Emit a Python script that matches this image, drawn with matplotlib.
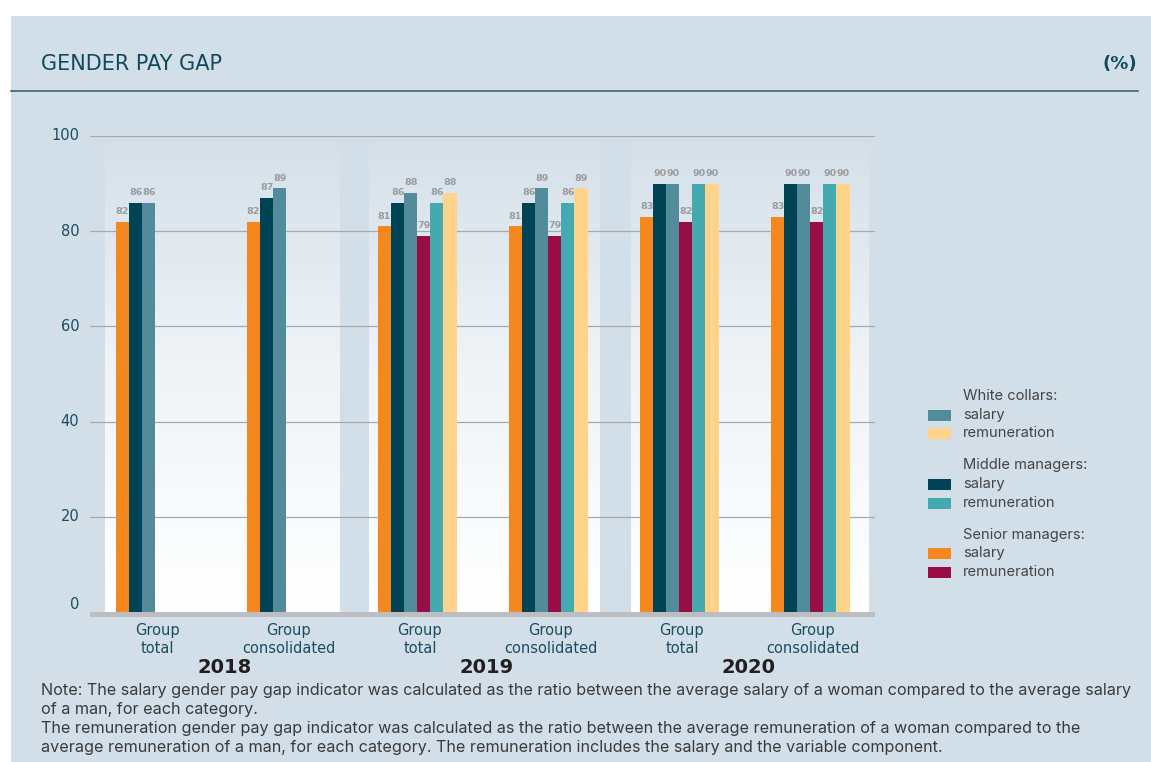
import matplotlib
matplotlib.use("Agg")
import matplotlib.pyplot as plt
import matplotlib.patches as mpatches
from matplotlib.colors import LinearSegmentedColormap
import numpy as np

# ── Data ──────────────────────────────────────────────────────────────────────
GROUPS = ["Group\ntotal", "Group\nconsolidated"] * 3
YEARS = ["2018", "2019", "2020"]

SERIES = [
    "Senior managers salary",
    "Middle managers salary",
    "White collars salary",
    "Senior managers remuneration",
    "Middle managers remuneration",
    "White collars remuneration",
]
SENIOR_SAL = [82, 82, 81, 81, 83, 83]
MIDDLE_SAL = [86, 87, 86, 86, 90, 90]
WHITE_SAL  = [86, 89, 88, 89, 90, 90]
SENIOR_REM = [np.nan, np.nan, 79, 79, 82, 82]
MIDDLE_REM = [np.nan, np.nan, 86, 86, 90, 90]
WHITE_REM  = [np.nan, np.nan, 88, 89, 90, 90]
VALUES = [SENIOR_SAL, MIDDLE_SAL, WHITE_SAL, SENIOR_REM, MIDDLE_REM, WHITE_REM]

YTICKS = [0, 20, 40, 60, 80, 100]

# ── Palette ───────────────────────────────────────────────────────────────────
BG       = "#d3dfe8"
COL_SEN_S = "#f5871f"
COL_MID_S = "#004354"
COL_WHI_S = "#528c9a"
COL_SEN_R = "#990d45"
COL_MID_R = "#45aab0"
COL_WHI_R = "#ffd38a"
COLORS = [COL_SEN_S, COL_MID_S, COL_WHI_S, COL_SEN_R, COL_MID_R, COL_WHI_R]
TEAL_TXT = "#1a4d60"
FONT = "DejaVu Sans"
NOTE_FONT = "Inter"

W, H = 1151, 762
fig = plt.figure(figsize=(W / 100, H / 100), dpi=100)
fig.patch.set_facecolor("white")

# background card
fig.add_artist(mpatches.Rectangle((11 / W, 0), 1 - 11 / W, 1 - 16 / H,
                                  transform=fig.transFigure,
                                  facecolor=BG, edgecolor="none", zorder=0))

# header
fig.text(41 / W, 1 - 64 / H, "GENDER PAY GAP", fontsize=15, color="#0e4a5c",
         fontname=FONT, va="center", ha="left")
fig.text(1137 / W, 1 - 64 / H, "(%)", fontsize=13, color="#0e4a5c",
         fontname=FONT, va="center", ha="right", fontweight="bold")
fig.add_artist(plt.Line2D([11 / W, 1138 / W], [1 - 91 / H, 1 - 91 / H],
                          transform=fig.transFigure, color="#2b5a6b", lw=1.1))

# ── Axes ──────────────────────────────────────────────────────────────────────
ax = fig.add_axes([90 / W, 150 / H, 785 / W, 476 / H])
ax.set_facecolor("none")
for s in ax.spines.values():
    s.set_visible(False)
ax.set_xticks([])
ax.set_yticks([])

# white gradient panels behind each year
grad = np.linspace(0, 1, 256).reshape(-1, 1)
cmap = LinearSegmentedColormap.from_list("panel", ["white", "#f0f4f7", BG])
for x0, x1 in [(-1.3, 16.6), (18.8, 36.4), (38.8, 56.9)]:
    ax.imshow(grad, extent=(x0, x1, 0, 101), origin="lower", cmap=cmap,
              aspect="auto", zorder=1)
ax.set_xlim(-2.48, 57.44)
ax.set_ylim(0, 100)

# gridlines + tick labels
for t in YTICKS[1:]:
    ax.axhline(t, color="#a4a9ad", lw=0.9, zorder=2)
for t in YTICKS:
    yy = t + (1.5 if t == 0 else 0)
    ax.text(-3.3, yy, str(t), fontsize=10.5, color=TEAL_TXT, fontname=FONT,
            ha="right", va="center", clip_on=False)

# baseline
ax.add_patch(mpatches.Rectangle((-2.48, -1.1), 59.9, 1.1, facecolor="#bcbec2",
                                edgecolor="none", clip_on=False, zorder=4))

# bars
n_groups = len(GROUPS)
for j, (vals, col) in enumerate(zip(VALUES, COLORS)):
    for g in range(n_groups):
        v = vals[g]
        if np.isnan(v):
            continue
        x = 10 * g + j
        ax.bar(x, v, width=1.0, color=col, edgecolor="none", zorder=3)
        ax.text(x, v + 1.2, f"{v:.0f}", fontsize=6.8, fontweight="bold",
                color="#9a9c9e", ha="center", va="bottom", fontname=FONT,
                zorder=5)

# category + year labels
for g, lab in enumerate(GROUPS):
    ax.text(10 * g + 2.7, -2.3, lab, fontsize=10.5, color=TEAL_TXT,
            fontname=FONT, ha="center", va="top", linespacing=1.25,
            clip_on=False)
for k, yr in enumerate(YEARS):
    ax.text(20 * k + 7.8, -9.6, yr, fontsize=14, fontweight="bold",
            color="#231f20", fontname=FONT, ha="center", va="top",
            clip_on=False)

# ── Legend (drawn manually to match stacked headings) ────────────────────────
legend_rows = [
    ("White collars:", None, 396),
    ("salary", COL_WHI_S, 415),
    ("remuneration", COL_WHI_R, 433),
    ("Middle managers:", None, 465),
    ("salary", COL_MID_S, 484),
    ("remuneration", COL_MID_R, 503),
    ("Senior managers:", None, 535),
    ("salary", COL_SEN_S, 553),
    ("remuneration", COL_SEN_R, 572),
]
for label, col, py in legend_rows:
    fig.text(963 / W, 1 - py / H, label, fontsize=10.6, color="#444444",
             fontname=NOTE_FONT, va="center", ha="left")
    if col is not None:
        fig.add_artist(mpatches.Rectangle((928 / W, 1 - (py + 5.5) / H),
                                          23 / W, 11 / H,
                                          transform=fig.transFigure,
                                          facecolor=col, edgecolor="none"))

# ── Note ──────────────────────────────────────────────────────────────────────
NOTE = [
    "Note: The salary gender pay gap indicator was calculated as the ratio between the average salary of a woman compared to the average salary",
    "of a man, for each category.",
    "The remuneration gender pay gap indicator was calculated as the ratio between the average remuneration of a woman compared to the",
    "average remuneration of a man, for each category. The remuneration includes the salary and the variable component.",
]
for i, line in enumerate(NOTE):
    fig.text(41 / W, 1 - (691 + 18.7 * i) / H, line, fontsize=11.65,
             color="#3a3a3a", fontname=NOTE_FONT, va="center", ha="left")

fig.savefig("out.png", dpi=100, facecolor="white")
